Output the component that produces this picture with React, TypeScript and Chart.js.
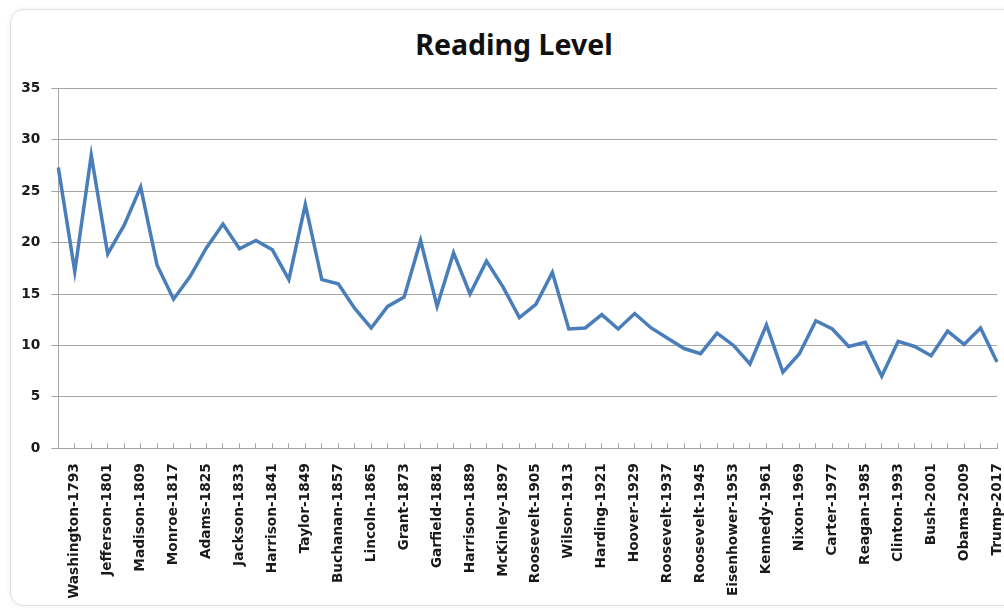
import React, { useEffect, useRef } from "react";
import { Chart, registerables } from "chart.js";

Chart.register(...registerables);

const presidents: string[] = [
  "Washington-1789", "Washington-1793", "Adams-1797", "Jefferson-1801", "Jefferson-1805",
  "Madison-1809", "Madison-1813", "Monroe-1817", "Monroe-1821", "Adams-1825",
  "Jackson-1829", "Jackson-1833", "Van Buren-1837", "Harrison-1841", "Polk-1845",
  "Taylor-1849", "Pierce-1853", "Buchanan-1857", "Lincoln-1861", "Lincoln-1865",
  "Grant-1869", "Grant-1873", "Hayes-1877", "Garfield-1881", "Cleveland-1885",
  "Harrison-1889", "Cleveland-1893", "McKinley-1897", "McKinley-1901", "Roosevelt-1905",
  "Taft-1909", "Wilson-1913", "Wilson-1917", "Harding-1921", "Coolidge-1925",
  "Hoover-1929", "Roosevelt-1933", "Roosevelt-1937", "Roosevelt-1941", "Roosevelt-1945",
  "Truman-1949", "Eisenhower-1953", "Eisenhower-1957", "Kennedy-1961", "Johnson-1965",
  "Nixon-1969", "Nixon-1973", "Carter-1977", "Reagan-1981", "Reagan-1985",
  "Bush-1989", "Clinton-1993", "Clinton-1997", "Bush-2001", "Bush-2005",
  "Obama-2009", "Obama-2013", "Trump-2017",
];

const readingLevel: number[] = [
  27.3, 17.2, 28.5, 18.9, 21.7, 25.4, 17.8, 14.5, 16.7, 19.5,
  21.8, 19.4, 20.2, 19.3, 16.4, 23.7, 16.4, 16.0, 13.6, 11.7,
  13.8, 14.7, 20.2, 13.8, 19.0, 15.0, 18.2, 15.7, 12.7, 14.0,
  17.1, 11.6, 11.7, 13.0, 11.6, 13.1, 11.7, 10.7, 9.7, 9.2,
  11.2, 10.0, 8.2, 12.0, 7.4, 9.2, 12.4, 11.6, 9.9, 10.3,
  7.0, 10.4, 9.9, 9.0, 11.4, 10.1, 11.7, 8.4,
];

const yTicks: number[] = [0, 5, 10, 15, 20, 25, 30, 35];

const chartTitle = "Reading Level";

export default function App() {
  const canvasRef = useRef<HTMLCanvasElement | null>(null);

  useEffect(() => {
    if (!canvasRef.current) return;
    const chart = new Chart(canvasRef.current, {
      type: "line",
      data: {
        labels: presidents,
        datasets: [
          {
            label: chartTitle,
            data: readingLevel,
            borderColor: "#4a7ebb",
            backgroundColor: "#4a7ebb",
            borderWidth: 3.5,
            pointRadius: 0,
            tension: 0,
            fill: false,
          },
        ],
      },
      options: {
        responsive: false,
        animation: false,
        layout: { padding: { top: 88.3, left: 0, right: 7, bottom: 0 } },
        plugins: {
          legend: { display: false },
          tooltip: { enabled: false },
          title: { display: false },
        },
        scales: {
          x: {
            type: "category",
            offset: false,
            afterFit: (scale: any) => {
              scale.height = 161.7;
              scale.paddingLeft = 0;
              scale.paddingRight = 0;
            },
            grid: {
              drawOnChartArea: false,
              drawTicks: true,
              tickLength: -5,
              color: "#a6a6a6",
              lineWidth: 1,
            },
            border: { display: true, color: "#a6a6a6", width: 1 },
            ticks: {
              autoSkip: false,
              minRotation: 90,
              maxRotation: 90,
              padding: 20,
              color: "#1a1a1a",
              font: { family: "'DejaVu Sans'", size: 13.7, weight: "bold" },
              callback: (_v: any, i: number) => (i % 2 === 1 ? presidents[i] : ""),
            },
          },
          y: {
            min: 0,
            max: 35,
            afterFit: (scale: any) => {
              scale.width = 58.3;
              scale.paddingTop = 0;
              scale.paddingBottom = 0;
            },
            afterBuildTicks: (scale: any) => {
              scale.ticks = yTicks.map((v) => ({ value: v }));
            },
            grid: {
              color: "#a6a6a6",
              lineWidth: 1,
              drawTicks: true,
              tickLength: 7,
            },
            border: { display: true, color: "#a6a6a6", width: 1 },
            ticks: {
              padding: 11,
              color: "#1a1a1a",
              font: { family: "'DejaVu Sans'", size: 13.7, weight: "bold" },
            },
          },
        },
      },
    });
    return () => chart.destroy();
  }, []);

  return (
    <div
      style={{
        position: "fixed",
        left: 0,
        top: 0,
        width: 1004,
        height: 610,
        overflow: "hidden",
        background: "#ffffff",
      }}
    >
      <div
        style={{
          position: "absolute",
          left: 10,
          top: 9,
          width: 1010,
          height: 595,
          border: "1px solid #e2e2e2",
          borderRadius: 14,
          boxShadow: "0 0 5px rgba(0,0,0,0.08)",
          background: "#ffffff",
        }}
      />
      <div
        style={{
          position: "absolute",
          left: 314,
          width: 400,
          top: 26,
          height: 36,
          lineHeight: "36px",
          textAlign: "center",
          fontFamily: "'Noto Sans', sans-serif",
          fontWeight: 700,
          fontSize: 28.5,
          color: "#111111",
          whiteSpace: "nowrap",
        }}
      >
        {chartTitle}
      </div>
      <canvas
        ref={canvasRef}
        width={1004}
        height={610}
        style={{ position: "absolute", left: 0, top: 0, width: 1004, height: 610 }}
      />
    </div>
  );
}
